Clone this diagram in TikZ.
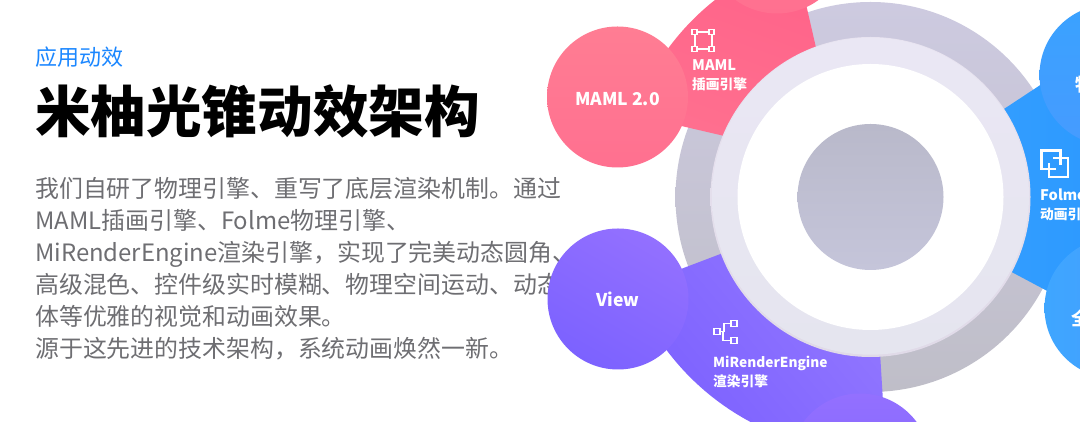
\documentclass[tikz,border=0pt]{standalone}
\usepackage{fontspec}
\setmainfont{Noto Sans CJK SC}
\definecolor{bodygray}{HTML}{6E6E72}
\definecolor{headblue}{HTML}{1B87FF}
\definecolor{ringtop}{HTML}{CDCAE0}
\definecolor{ringbot}{HTML}{BFBEC8}
\definecolor{lighttop}{HTML}{EAE7F4}
\definecolor{lightbot}{HTML}{E5E5EF}
\definecolor{edgetop}{HTML}{E8E3F0}
\definecolor{edgebot}{HTML}{E0DAE8}
\definecolor{coretop}{HTML}{B9B9CA}
\definecolor{corebot}{HTML}{C5C5DA}
\definecolor{pinkA}{HTML}{FF5E87}
\definecolor{pinkB}{HTML}{FF8197}
\definecolor{pinkC}{HTML}{FF7090}
\definecolor{pinkD}{HTML}{FF7D93}
\definecolor{violetA}{HTML}{7B60FF}
\definecolor{violetB}{HTML}{957AFF}
\definecolor{violetC}{HTML}{7C62FF}
\definecolor{violetD}{HTML}{9370FF}
\definecolor{blueA}{HTML}{2A98FF}
\definecolor{blueB}{HTML}{3AA2FF}
\definecolor{blueC}{HTML}{469BFF}
\definecolor{blueD}{HTML}{3FA6FF}
\tikzset{
  bodyline/.style={anchor=base west,inner sep=0pt,text=bodygray,font=\fontsize{23.9}{24}\selectfont},
  circlelabel/.style={text=white,inner sep=0pt,font=\fontsize{18}{20}\selectfont\bfseries},
  sectorlabel/.style={anchor=base west,inner sep=0pt,text=white,font=\fontsize{13.7}{14}\selectfont\bfseries},
  iconline/.style={draw=white,line width=2pt},
  bubble/.style={circle,minimum size=141pt,inner sep=0pt,text=white,font=\fontsize{17.6}{18}\selectfont\bfseries},
}
\begin{document}
\begin{tikzpicture}[x=1pt,y=1pt]
\useasboundingbox (0,0) rectangle (1080,422);
\fill[white] (0,0) rectangle (1080,422);
\clip (0,0) rectangle (1080,422);
% text
\node[anchor=base west,inner sep=0pt,text=headblue,font=\fontsize{22}{24}\selectfont] (kicker) at (35,356) {应用动效};
\node[anchor=base west,inner sep=0pt,text=black,font=\fontsize{55.6}{60}\selectfont\bfseries] (title) at (35,289) {米柚光锥动效架构};
\node[bodyline] (l1) at (35,224) {我们自研了物理引擎、重写了底层渲染机制。通过};
\node[bodyline] (l2) at (35,192) {MAML插画引擎、Folme物理引擎、};
\node[bodyline] (l3) at (35,160) {MiRenderEngine渲染引擎，实现了完美动态圆角、};
\node[bodyline] (l4) at (35,128) {高级混色、控件级实时模糊、物理空间运动、动态};
\node[bodyline] (l5) at (35,96) {体等优雅的视觉和动画效果。};
\node[bodyline] (l6) at (35,64) {源于这先进的技术架构，系统动画焕然一新。};
\coordinate (c) at (870.5,225);
% gray ring
\shade[top color=ringtop,bottom color=ringbot] (c) circle[radius=195pt];
% sectors
\begin{scope}
\clip (580,319.6) -- (842.5,258.5) -- (791.8,480) -- (580,600) -- cycle;
\shade[top color=pinkA,bottom color=pinkB,shading angle=-20] (c) circle[radius=251pt];
\end{scope}
\shade[left color=blueB,right color=blueA] (c) -- ++(-28:255pt) arc[start angle=-28,end angle=33.4,radius=255pt] -- cycle;
\shade[top color=violetB,bottom color=violetA,shading angle=-50] (c) -- ++(200.8:255pt) arc[start angle=200.8,end angle=273.5,radius=255pt] -- cycle;
% rings
\shade[top color=edgetop,bottom color=edgebot] (c) circle[radius=160pt];
\shade[top color=lighttop,bottom color=lightbot] ([yshift=0.8pt]c) circle[radius=158.5pt];
\fill[white] (c) circle[radius=133pt];
\shade[top color=coretop,bottom color=corebot] (c) circle[radius=73pt];
% bubbles
\node[bubble,top color=pinkD,bottom color=pinkC] (maml) at (617.5,325) {};
\node[inner sep=0pt,text=white,font=\fontsize{17.6}{18}\selectfont\bfseries] (mamltext) at (617.5,323) {MAML 2.0};
\node[bubble,top color=violetD,bottom color=violetC,shading angle=-30] (view) at (618,123) {View};
\node[bubble,top color=pinkD,bottom color=pinkC] (toppink) at (777,479) {};
\node[bubble,top color=blueB,bottom color=blueC] (upblue) at (1110,347) {};
\node[bubble,left color=blueD,right color=blueC] (lowblue) at (1115,114) {};
\node[bubble,top color=violetD,bottom color=violetC] (botviolet) at (860,-42) {};
\node[circlelabel,anchor=west] (wu) at (1075,337) {物};
\node[circlelabel,anchor=west] (quan) at (1071,104) {全};
% sector labels
\node[sectorlabel] (m1) at (692,351) {\fontsize{14.6}{15}\selectfont MAML};
\node[sectorlabel] (m2) at (692,332.5) {插画引擎};
\node[sectorlabel] (f1) at (1040,221) {\fontsize{14.6}{15}\selectfont Folme};
\node[sectorlabel] (f2) at (1040,202) {动画引擎};
\node[sectorlabel] (r1) at (713,54.5) {MiRenderEngine};
\node[sectorlabel] (r2) at (713,35) {渲染引擎};
% MAML icon
\draw[iconline] (694.5,390) rectangle (711.5,373);
\foreach \p in {(694.5,390),(711.5,390),(694.5,373),(711.5,373)}
  \draw[iconline,line width=1.5pt,fill=pinkA] \p +(-2.3,-2.3) rectangle +(2.3,2.3);
% Folme icon
\draw[iconline,line width=2.4pt] (1056,253) -- (1041.5,253) -- (1041.5,271.5) -- (1060.5,271.5) -- (1060.5,257);
\draw[iconline,line width=2.4pt] (1053,264) -- (1068,264) -- (1068,245) -- (1049,245) -- (1049,259);
% MiRender icon
\draw[iconline,line width=1.7pt] (720,90.5) -- (724,90.5) -- (724,98.5) -- (730.5,98.5);
\draw[iconline,line width=1.7pt] (723.2,90) -- (723.2,81.5) -- (730.5,81.5);
\draw[iconline,line width=1.8pt] (713.9,87.5) rectangle (719.7,93.5);
\draw[iconline,line width=1.8pt] (730.9,95.5) rectangle (736.7,101.5);
\draw[iconline,line width=1.8pt] (730.9,78.5) rectangle (736.7,84.5);
\end{tikzpicture}
\end{document}
